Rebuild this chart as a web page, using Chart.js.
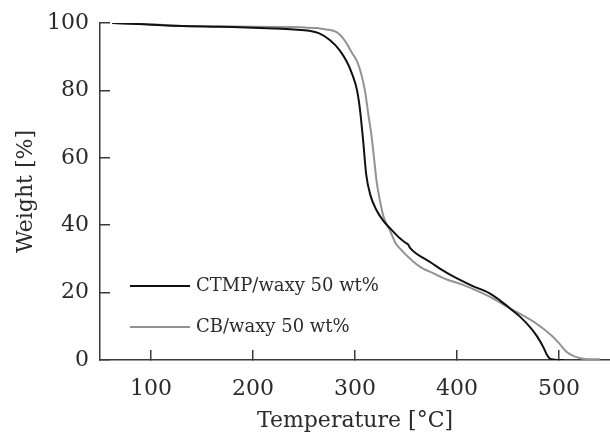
<!DOCTYPE html>
<html>
<head>
<meta charset="utf-8">
<script src="https://cdn.jsdelivr.net/npm/chart.js@4.4.0/dist/chart.umd.min.js"></script>
<style>
  html, body { margin: 0; padding: 0; background: #fff; }
  #wrap { width: 610px; height: 433px; position: relative; }
</style>
</head>
<body>
<div id="wrap"><canvas id="chart"></canvas></div>
<script>
// TGA curves
const ctmpTemp = [62, 80, 100, 120, 140, 160, 180, 200, 220, 240, 255, 265, 275, 285, 292, 297, 302, 305, 308, 311, 315, 321, 328, 334, 344, 350, 352, 354, 360, 373, 386, 400, 415, 432, 442, 452, 462, 472, 479, 485, 488, 491, 496, 505];
const ctmpWeight = [100, 99.8, 99.5, 99.2, 99.0, 98.9, 98.8, 98.6, 98.4, 98.1, 97.7, 96.9, 95.0, 91.9, 88.5, 85, 80, 74, 65, 55, 49, 44.5, 41.2, 39.2, 36.1, 34.7, 34.3, 33.3, 31.6, 29.2, 26.6, 24.2, 22.0, 19.8, 17.7, 15.3, 12.8, 9.6, 6.8, 3.6, 1.6, 0.4, 0.1, 0];

const cbTemp = [62, 100, 130, 160, 200, 230, 250, 262, 272, 282, 288, 292, 297, 302, 306, 310, 313, 316, 319, 321, 324, 328, 334, 340, 344, 350, 355, 357, 365, 377, 390, 406, 420, 435, 452, 465, 475, 485, 494, 500, 507, 514, 521, 530, 540];
const cbWeight = [100, 99.6, 99.1, 99.0, 98.9, 98.8, 98.7, 98.5, 98.1, 97.3, 95.6, 93.8, 91.2, 88.6, 85, 79.5, 73, 67, 59, 53.4, 48, 42.5, 38.6, 34.6, 33.1, 31.2, 29.8, 29.2, 27.4, 25.7, 23.9, 22.3, 20.5, 18.3, 15.3, 13.2, 11.4, 9.2, 6.9, 5.0, 2.5, 1.2, 0.5, 0.2, 0.2];

const seriesNames = ["CTMP/waxy 50 wt%", "CB/waxy 50 wt%"];
const seriesColors = ["#111111", "#939393"];

const xTicks = [100, 200, 300, 400, 500];
const yTicks = [0, 20, 40, 60, 80, 100];

const xTitle = "Temperature [°C]";
const yTitle = "Weight [%]";

const axisColor = "#3a3a3a";
const textColor = "#2b2b2b";
const serif = "'DejaVu Serif', 'Liberation Serif', serif";

function toPoints(xs, ys) {
  return xs.map((x, i) => ({ x: x, y: ys[i] }));
}

// legend drawn inside the plot, bottom left
const innerLegend = {
  id: "innerLegend",
  afterDatasetsDraw(chart) {
    const ctx = chart.ctx;
    const area = chart.chartArea;
    const rows = [area.bottom - 74, area.bottom - 33];
    ctx.save();
    ctx.font = "18px " + serif;
    ctx.textBaseline = "middle";
    ctx.textAlign = "left";
    chart.data.datasets.forEach((ds, i) => {
      const y = rows[i];
      ctx.strokeStyle = ds.borderColor;
      ctx.lineWidth = 2;
      ctx.beginPath();
      ctx.moveTo(area.left + 30, y);
      ctx.lineTo(area.left + 90, y);
      ctx.stroke();
      ctx.fillStyle = textColor;
      ctx.fillText(ds.label, area.left + 96, y);
    });
    ctx.restore();
  }
};

const chartCanvas = document.getElementById("chart").getContext("2d");

const chart = new Chart(chartCanvas, {
  type: "line",
  data: {
    datasets: [
      {
        label: seriesNames[0],
        data: toPoints(ctmpTemp, ctmpWeight),
        borderColor: seriesColors[0],
        borderWidth: 2,
        pointRadius: 0,
        cubicInterpolationMode: "monotone",
        fill: false,
      },
      {
        label: seriesNames[1],
        data: toPoints(cbTemp, cbWeight),
        borderColor: seriesColors[1],
        borderWidth: 2,
        pointRadius: 0,
        cubicInterpolationMode: "monotone",
        fill: false,
      },
    ],
  },
  options: {
    responsive: true,
    maintainAspectRatio: false,
    animation: false,
    layout: { padding: { left: 0, right: 0, top: 23, bottom: 0 } },
    plugins: {
      legend: { display: false },
      tooltip: { enabled: false },
    },
    scales: {
      x: {
        type: "linear",
        min: 50,
        max: 550,
        afterFit(scale) { scale.height = 73; },
        afterBuildTicks(scale) { scale.ticks = xTicks.map((v) => ({ value: v })); },
        border: { display: true, color: axisColor, width: 1.5 },
        grid: { drawOnChartArea: false, drawTicks: true, tickLength: -10, color: axisColor, lineWidth: 1.5 },
        ticks: {
          padding: 26,
          color: textColor,
          font: { family: serif, size: 22 },
          maxRotation: 0,
        },
        title: {
          display: true,
          text: xTitle,
          color: textColor,
          font: { family: serif, size: 22, lineHeight: 1 },
          padding: { top: 0, bottom: 1 },
        },
      },
      y: {
        min: 0,
        max: 100,
        afterFit(scale) {
          scale.width = 100;
          // the label padding would push the plot down, layout.padding sets the top instead
          scale.paddingTop = 0;
          scale.paddingBottom = 0;
        },
        afterBuildTicks(scale) { scale.ticks = yTicks.map((v) => ({ value: v })); },
        border: { display: true, color: axisColor, width: 1.5 },
        grid: { drawOnChartArea: false, drawTicks: true, tickLength: -10, color: axisColor, lineWidth: 1.5 },
        ticks: {
          padding: 21,
          color: textColor,
          font: { family: serif, size: 22 },
        },
        title: {
          display: true,
          text: yTitle,
          color: textColor,
          font: { family: serif, size: 22, lineHeight: 1 },
          padding: { top: 15, bottom: 0 },
        },
      },
    },
  },
  plugins: [innerLegend],
});
</script>
</body>
</html>
